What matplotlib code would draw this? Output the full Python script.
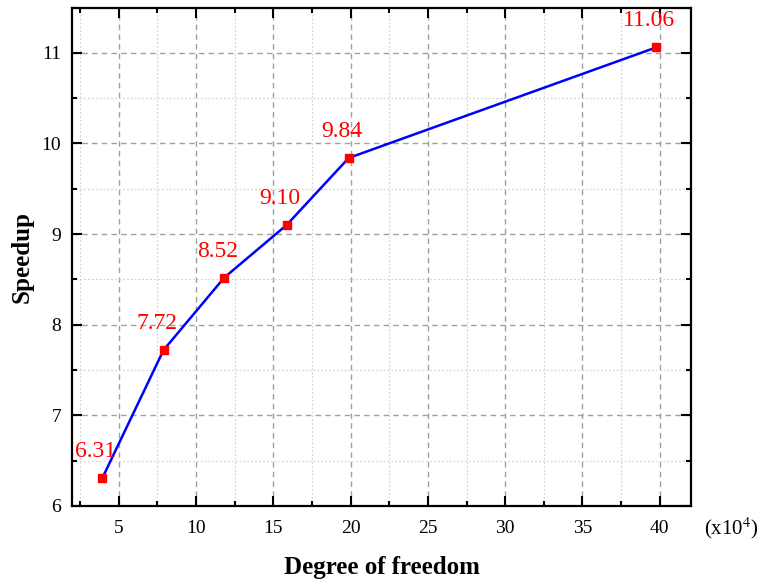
import matplotlib.pyplot as plt
from matplotlib.ticker import MultipleLocator

plt.rcParams['font.family'] = 'Liberation Serif'
plt.rcParams['mathtext.fontset'] = 'stix'

# degree of freedom (x10^4) and speedup
dof = [3.95, 7.9, 11.83, 15.86, 19.88, 39.77]
speedup = [6.31, 7.72, 8.52, 9.10, 9.84, 11.06]

fig = plt.figure(figsize=(7.62, 5.83), dpi=100)
ax = fig.add_axes([72.3 / 762, 1 - 506 / 583, (690.7 - 72.3) / 762, (506 - 7.5) / 583])

ax.plot(dof, speedup, color='blue', lw=1.8, marker='s', ms=6,
        mfc='red', mec='red', zorder=3)
for x, y in zip(dof, speedup):
    ax.annotate('%.2f' % y, (x, y), xytext=(-5, 19), textcoords='offset points',
                ha='center', va='center', color='red', fontsize=17)

ax.set_xlim(2, 42)
ax.set_ylim(6, 11.5)
ax.xaxis.set_major_locator(MultipleLocator(5))
ax.xaxis.set_minor_locator(MultipleLocator(2.5))
ax.yaxis.set_major_locator(MultipleLocator(1))
ax.yaxis.set_minor_locator(MultipleLocator(0.5))

ax.grid(which='major', ls=(0, (4, 3)), color='#a0a0a0', lw=1.0)
ax.grid(which='minor', ls=(0, (1.5, 2)), color='#d0d0d0', lw=0.8)
ax.set_axisbelow(True)

ax.tick_params(which='both', direction='in', top=True, right=True,
               labelsize=14, width=1.5, pad=8)
ax.tick_params(axis='x', which='major', pad=10)
ax.tick_params(which='major', length=7)
ax.tick_params(which='minor', length=3.5)
for s in ax.spines.values():
    s.set_linewidth(1.6)

ax.set_xlabel('Degree of freedom', fontsize=18, fontweight='bold', labelpad=14)
ax.set_ylabel('Speedup', fontsize=18, fontweight='bold', labelpad=6)
ax.text(1.065, -0.044, r'(x10$^4$)', transform=ax.transAxes, ha='center', va='center',
        fontsize=15)

fig.savefig('out.png', dpi=100)
